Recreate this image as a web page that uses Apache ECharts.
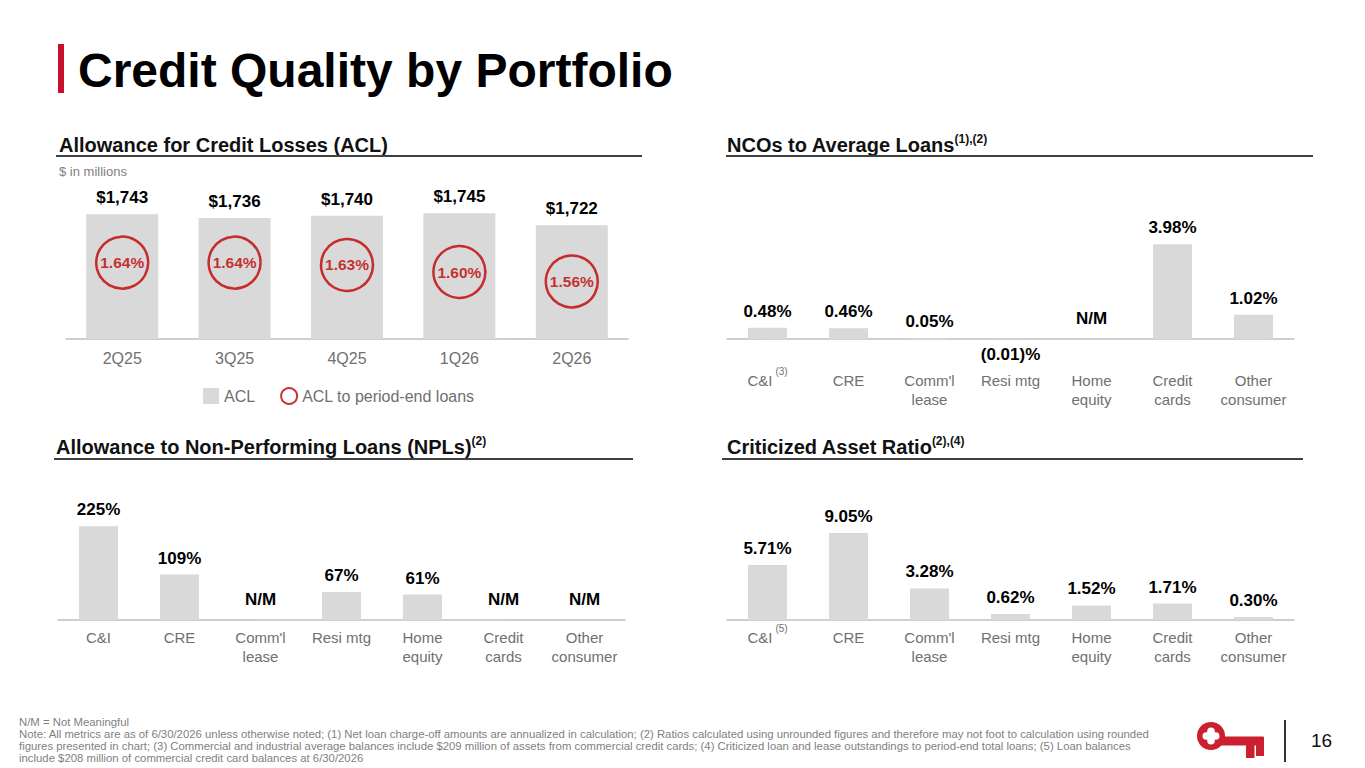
<!DOCTYPE html>
<html>
<head>
<meta charset="utf-8">
<title>Credit Quality by Portfolio</title>
<script src="https://cdn.jsdelivr.net/npm/echarts@6/dist/echarts.min.js"></script>
<style>
    body { margin: 0; width: 1365px; height: 768px; position: relative; overflow: hidden; background: #fff;
           font-family: "Liberation Sans", Arial, sans-serif; }
    #chart { position: absolute; left: 0; top: 0; width: 1365px; height: 768px; }
    .abs { position: absolute; white-space: nowrap; z-index: 2; }
    .redbar { left: 58px; top: 44px; width: 6px; height: 49px; background: #c8102e; }
    .title { left: 78px; top: 43px; font-size: 48px; line-height: 56px; font-weight: bold; color: #000; }
    .head { font-size: 20px; line-height: 24px; font-weight: bold; color: #111; }
    .head sup { font-size: 12px; line-height: 0; vertical-align: 9px; font-weight: bold; }
    .rule { height: 2px; background: #404040; }
    .unit { left: 59px; top: 164px; font-size: 13px; line-height: 16px; color: #7f7f7f; }
    .notes { left: 19px; top: 716px; font-size: 11.35px; line-height: 12px; color: #7f7f7f; }
    .page { left: 1311px; top: 730px; font-size: 19px; line-height: 22px; color: #111; }
    .divider { left: 1284px; top: 720px; width: 1.5px; height: 42px; background: #333; }
</style>
</head>
<body>
<div class="abs redbar"></div>
<div class="abs title">Credit Quality by Portfolio</div>

<div class="abs head" style="left:59px;top:133px;">Allowance for Credit Losses (ACL)</div>
<div class="abs rule" style="left:56px;top:155px;width:586px;"></div>
<div class="abs unit">$ in millions</div>

<div class="abs head" style="left:727px;top:133px;">NCOs to Average Loans<sup>(1),(2)</sup></div>
<div class="abs rule" style="left:726px;top:155px;width:587px;"></div>

<div class="abs head" style="left:56px;top:435px;">Allowance to Non-Performing Loans (NPLs)<sup>(2)</sup></div>
<div class="abs rule" style="left:54px;top:458px;width:579px;"></div>

<div class="abs head" style="left:727px;top:435px;">Criticized Asset Ratio<sup>(2),(4)</sup></div>
<div class="abs rule" style="left:722px;top:458px;width:581px;"></div>

<div class="abs notes">N/M = Not Meaningful<br>Note: All metrics are as of 6/30/2026 unless otherwise noted; (1) Net loan charge-off amounts are annualized in calculation; (2) Ratios calculated using unrounded figures and therefore may not foot to calculation using rounded<br>figures presented in chart; (3) Commercial and industrial average balances include $209 million of assets from commercial credit cards; (4) Criticized loan and lease outstandings to period-end total loans; (5) Loan balances<br>include $208 million of commercial credit card balances at 6/30/2026</div>

<svg class="abs" style="left:1190px;top:718px;" width="80" height="45" viewBox="0 0 80 45">
    <g fill="#cc1f2f">
        <circle cx="21" cy="18" r="14"/>
        <rect x="30" y="18.5" width="44" height="9" rx="1"/>
        <rect x="56" y="26" width="8.5" height="14"/>
        <rect x="66" y="26" width="8" height="12"/>
    </g>
    <g fill="#fff">
        <circle cx="16.3" cy="18" r="3.8"/>
        <circle cx="25.7" cy="18" r="3.8"/>
        <circle cx="21" cy="13.3" r="3.8"/>
        <circle cx="21" cy="22.7" r="3.8"/>
        <rect x="17.3" y="14.3" width="7.4" height="7.4"/>
    </g>
</svg>
<div class="abs divider"></div>
<div class="abs page">16</div>

<div id="chart"></div>

<script>
// ACL by quarter
var aclQuarters = ['2Q25', '3Q25', '4Q25', '1Q26', '2Q26'];
var aclValues = [1743, 1736, 1740, 1745, 1722];
var aclRatio = [1.64, 1.64, 1.63, 1.60, 1.56];

// portfolio charts (null = N/M)
var portfolios = ['C&I', 'CRE', "Comm'l\nlease", 'Resi mtg', 'Home\nequity', 'Credit\ncards', 'Other\nconsumer'];
var ncoValues = [0.48, 0.46, 0.05, -0.01, null, 3.98, 1.02];
var nplValues = [225, 109, null, 67, 61, null, null];
var carValues = [5.71, 9.05, 3.28, 0.62, 1.52, 1.71, 0.30];
var ncoNotes = ['(3)', '', '', '', '', '', ''];
var carNotes = ['(5)', '', '', '', '', '', ''];

var barColor = '#d9d9d9';
var red = '#c00000';
var catColor = '#707070';

var chart = echarts.init(document.getElementById('chart'), null, { renderer: 'svg' });

function catAxis(grid, cats, notes, margin) {
    // a label with a footnote mark uses a taller line so the mark can sit high;
    // the plain labels get top padding so the words still line up
    var data = cats.map(function (c, i) {
        return notes && notes[i] ? { value: c, textStyle: { padding: 0 } } : c;
    });
    return {
        type: 'category',
        gridIndex: grid,
        data: data,
        axisTick: { show: false },
        axisLine: { lineStyle: { color: '#bfbfbf', width: 1.5 } },
        axisLabel: {
            interval: 0,
            color: catColor,
            fontSize: 15,
            lineHeight: 19,
            margin: notes ? margin - 5 : margin,
            padding: notes ? [5, 0, 0, 0] : 0,
            formatter: function (v, i) {
                return notes && notes[i] ? '{t|' + v + '}{s|' + notes[i] + '}' : v;
            },
            rich: {
                t: { color: catColor, fontSize: 15, lineHeight: 29 },
                s: { color: catColor, fontSize: 10, lineHeight: 10, verticalAlign: 'top', padding: [0, 0, 0, 3] }
            }
        }
    };
}

function hiddenValue(grid, min, max) {
    return { type: 'value', gridIndex: grid, min: min, max: max, show: false };
}

function pct(v) { return v.toFixed(2) + '%'; }

function barData(values) {
    return values.map(function (v) {
        if (v === null) return { value: 0, label: { formatter: 'N/M', distance: 12 } };
        if (v < 0) return { value: v, label: { position: 'bottom', distance: 7 } };
        return v;
    });
}

var valueLabel = { show: true, position: 'top', distance: 8, color: '#000', fontSize: 17, fontWeight: 'bold' };

var option = {
    animation: false,
    grid: [
        { left: 66, top: 198, width: 562, height: 141 },
        { left: 727, top: 220, width: 567, height: 143 },
        { left: 58, top: 495, width: 567, height: 125 },
        { left: 727, top: 495, width: 567, height: 125 }
    ],
    legend: {
        left: 203,
        top: 387,
        padding: 0,
        itemWidth: 16,
        itemHeight: 16,
        itemGap: 25,
        textStyle: { color: '#6f6f6f', fontSize: 16 },
        data: [
            { name: 'ACL', icon: 'rect' },
            { name: 'ACL to period-end loans', icon: 'circle' }
        ]
    },
    xAxis: [
        (function () {
            var a = catAxis(0, aclQuarters, null, 10);
            a.axisLabel.fontSize = 16;
            return a;
        })(),
        catAxis(1, portfolios, ncoNotes, 8),
        catAxis(2, portfolios, null, 8),
        catAxis(3, portfolios, carNotes, 8)
    ],
    yAxis: [
        hiddenValue(0, 1505, 1774),
        hiddenValue(0, 1.315, 1.915),
        hiddenValue(1, -1, 5),
        hiddenValue(2, 0, 300),
        hiddenValue(3, 0, 13)
    ],
    series: [
        {
            name: 'ACL',
            type: 'bar',
            xAxisIndex: 0,
            yAxisIndex: 0,
            barWidth: 72,
            itemStyle: { color: barColor },
            label: {
                show: true, position: 'top', distance: 8, color: '#000', fontSize: 17, fontWeight: 'bold',
                formatter: function (p) { return '$' + p.value.toLocaleString('en-US'); }
            },
            data: aclValues
        },
        {
            name: 'ACL to period-end loans',
            type: 'scatter',
            xAxisIndex: 0,
            yAxisIndex: 1,
            symbol: 'circle',
            symbolSize: 52,
            itemStyle: { color: 'rgba(255,255,255,0)', borderColor: red, borderWidth: 2.5 },
            label: {
                show: true, position: 'inside', color: red, fontSize: 15.5, fontWeight: 'bold',
                formatter: function (p) { return pct(p.value); }
            },
            z: 3,
            data: aclRatio
        },
        {
            name: 'NCOs',
            type: 'bar',
            xAxisIndex: 1,
            yAxisIndex: 2,
            barWidth: 39,
            itemStyle: { color: barColor },
            label: Object.assign({}, valueLabel, {
                formatter: function (p) {
                    return p.value < 0 ? '(' + Math.abs(p.value).toFixed(2) + ')%' : pct(p.value);
                }
            }),
            data: barData(ncoValues)
        },
        {
            name: 'NPLs',
            type: 'bar',
            xAxisIndex: 2,
            yAxisIndex: 3,
            barWidth: 39,
            itemStyle: { color: barColor },
            label: Object.assign({}, valueLabel, {
                formatter: function (p) { return p.value + '%'; }
            }),
            data: barData(nplValues)
        },
        {
            name: 'Criticized',
            type: 'bar',
            xAxisIndex: 3,
            yAxisIndex: 4,
            barWidth: 39,
            itemStyle: { color: barColor },
            label: Object.assign({}, valueLabel, {
                formatter: function (p) { return pct(p.value); }
            }),
            data: barData(carValues)
        }
    ]
};

chart.setOption(option);
</script>
</body>
</html>
